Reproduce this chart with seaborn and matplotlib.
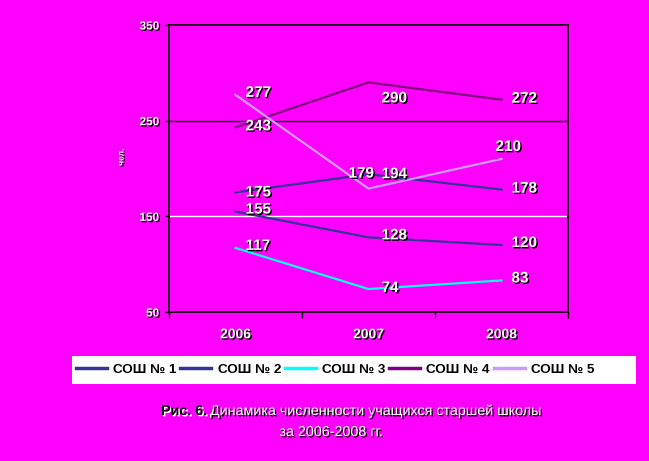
import matplotlib
matplotlib.use("Agg")
import matplotlib.pyplot as plt
import matplotlib.patheffects as pe
from matplotlib.patches import Rectangle
from matplotlib.lines import Line2D
import seaborn as sns
import pandas as pd

years = ["2006", "2007", "2008"]
schools = ["СОШ № 1", "СОШ № 2", "СОШ № 3", "СОШ № 4", "СОШ № 5"]
sosh1 = [175, 194, 178]
sosh2 = [155, 128, 120]
sosh3 = [117, 74, 83]
sosh4 = [243, 290, 272]
sosh5 = [277, 179, 210]
colors = ["#333399", "#333399", "#00FFFF", "#800080", "#CC99FF"]
y_ticks = [50, 150, 250, 350]
y_label = "чел."
caption_bold = "Рис. 6."
caption_rest = " Динамика численности учащихся старшей школы"
caption_line2 = "за 2006-2008 гг."

series = [sosh1, sosh2, sosh3, sosh4, sosh5]
rows = []
for s, vals in zip(schools, series):
    for i, v in enumerate(vals):
        rows.append({"x": i, "value": v, "school": s})
df = pd.DataFrame(rows)

# label offsets in pixels (dx, dy), dy positive = downward
label_offsets = {
    0: [(10, 0), (13, 0), (10, -1)],
    1: [(10, -2), (13, -2), (10, -2)],
    2: [(10, -2), (13, -1), (10, -2)],
    3: [(10, -1), (13, 16), (10, -1)],
    4: [(10, -2), (-20, -15), (-6, -12)],
}

BG = "#FF00FF"
plt.rcParams["font.family"] = ["Liberation Sans", "DejaVu Sans"]
fig = plt.figure(figsize=(6.49, 4.61), dpi=100, facecolor=BG)
ax = fig.add_axes([169/649, 1-312/461, (568-169)/649, (312-25)/461])
ax.set_facecolor(BG)

sns.lineplot(data=df, x="x", y="value", hue="school", palette=colors,
             linewidth=1.6, ax=ax, legend=False, sort=False)

ax.set_xlim(-0.5, 2.5)
ax.set_ylim(50, 350)
ax.axhline(250, color="black", lw=1, zorder=0)
ax.axhline(150, color="white", lw=1, zorder=0)
for sp in ax.spines.values():
    sp.set_color("black")
    sp.set_linewidth(1.2)

shadow = [pe.withSimplePatchShadow(offset=(1, -1), shadow_rgbFace="black", alpha=1.0)]

ax.set_yticks(y_ticks)
ax.set_yticklabels([str(t) for t in y_ticks], fontsize=8.5, fontweight="bold",
                   color="white")
for t in ax.get_yticklabels():
    t.set_path_effects(shadow)
ax.tick_params(axis="y", length=3, width=1, color="black", pad=4)

ax.set_xticks([-0.5, 0.5, 1.5, 2.5])
ax.set_xticklabels([])
ax.tick_params(axis="x", which="major", length=4, width=1, color="black")
ax.set_xticks([0, 1, 2], minor=True)
ax.set_xticklabels(years, minor=True, fontsize=10, fontweight="bold", color="white")
ax.tick_params(axis="x", which="minor", length=0, pad=11)
for t in ax.get_xticklabels(minor=True):
    t.set_path_effects(shadow)
ax.set_xlabel("")
ax.set_ylabel("")

fig.text(122/649, 1-157/461, y_label, rotation=90, fontsize=6, fontweight="bold",
         color="white", ha="center", va="center", path_effects=shadow)

for si, vals in enumerate(series):
    for i, v in enumerate(vals):
        dx, dy = label_offsets[si][i]
        ax.annotate(str(v), (i, v), xytext=(dx * 0.72, -dy * 0.72),
                    textcoords="offset points", ha="left", va="center",
                    fontsize=11, fontweight="bold", color="white",
                    path_effects=shadow)

# legend background box
fig.patches.append(Rectangle((72/649, 1-384/461), (636-72)/649, (384-356)/461,
                             transform=fig.transFigure, facecolor="white",
                             edgecolor="none", zorder=0))
handles = [Line2D([], [], color=c, lw=2.5) for c in colors]
leg = fig.legend(handles, schools, loc="center left", ncol=5,
                 bbox_to_anchor=(76/649, 1-370/461),
                 frameon=False,
                 prop={"size": 9.7, "weight": "bold"},
                 handlelength=2.3, handletextpad=0.45, columnspacing=0.3,
                 borderpad=0.0, borderaxespad=0)

fig.text(207/649, 1-411/461, caption_bold, ha="right", va="center", fontsize=10.3,
         fontweight="bold", color="black",
         path_effects=[pe.withSimplePatchShadow(offset=(1, -1), shadow_rgbFace="white", alpha=1.0)])
fig.text(206/649, 1-411/461, caption_rest, ha="left", va="center", fontsize=10.3,
         color="white", path_effects=shadow)
fig.text(331/649, 1-432/461, caption_line2, ha="center", va="center", fontsize=10.3,
         color="white", path_effects=shadow)

fig.savefig("out.png", dpi=100, facecolor=BG)
